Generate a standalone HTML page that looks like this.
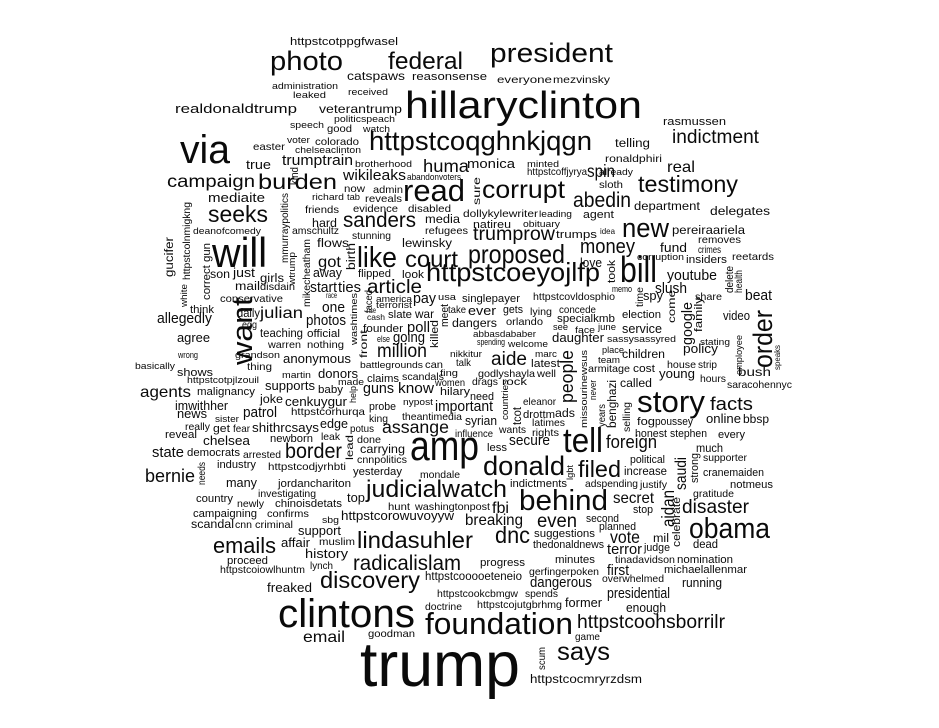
<!DOCTYPE html>
<html><head><meta charset="utf-8"><style>
html,body{margin:0;padding:0;background:#fff;}
svg{display:block;font-family:"Liberation Sans",Arial,sans-serif;}
text{fill:#0a0a0a;}
</style></head><body>
<svg id="cloud" width="939" height="728" viewBox="0 0 939 728" xmlns="http://www.w3.org/2000/svg"></svg>
<script>
// [word, x, baseline y, font size, length, vertical]
const words = [
["trump",360,686,66,160,0],["hillaryclinton",405,118,40,237,0],["clintons",278,627,42,137,0],
["amp",410,460,44,69,0],["via",180,163,42,50,0],["will",212,267,44,55,0],["story",637,412,32,68,0],
["tell",563,452,36,40,0],["president",490,62,28,123,0],["httpstcoqghnkjqgn",369,150,28,223,0],
["foundation",425,634,32,148,0],["behind",519,510,30,89,0],["read",403,201,32,62,0],["photo",270,70,28,73,0],
["federal",388,69,25,75,0],["bill",620,282,38,37,0],["httpstcoeyojlfp",426,281,27,174,0],
["proposed",468,263,27,97,0],["donald",483,475,28,82,0],["like",357,267,30,40,0],["court",405,267,24,53,0],
["obama",689,538,30,81,0],["corrupt",482,198,26,83,0],["testimony",638,192,24,100,0],["new",622,237,28,47,0],
["judicialwatch",366,497,25,141,0],["lindasuhler",357,548,24,116,0],["discovery",320,588,24,100,0],
["radicalislam",353,570,22,108,0],["burden",258,189,22,79,0],["seeks",208,222,24,60,0],["sanders",343,227,22,73,0],
["abedin",573,207,22,58,0],["emails",213,553,23,63,0],["says",557,660,26,53,0],["dnc",495,543,24,35,0],
["filed",578,477,24,43,0],["border",285,458,22,57,0],["indictment",672,143,20,87,0],["money",580,253,21,55,0],
["httpstcoohsborrilr",577,628,20,148,0],["trumprow",473,240,20,82,0],["disaster",682,513,20,67,0],
["article",367,293,20,55,0],["million",377,357,20,50,0],["even",537,527,20,40,0],["aide",491,365,20,36,0],
["foreign",606,448,19,51,0],["facts",710,410,19,43,0],["bernie",145,482,19,50,0],["campaign",167,187,18,88,0],
["huma",423,172,18,46,0],["spin",587,177,18,28,0],["assange",382,433,18,67,0],["vote",610,543,18,30,0],
["real",667,172,17,28,0],["agents",140,397,17,51,0],["julian",260,318,17,43,0],["got",318,267,17,23,0],
["breaking",465,525,17,58,0],["secret",613,503,17,41,0],["email",303,642,17,42,0],["fbi",492,513,17,17,0],
["trumptrain",282,165,16,71,0],["patrol",243,417,16,34,0],["know",398,393,16,36,0],["terror",607,554,16,35,0],
["wikileaks",343,180,15,63,0],["allegedly",157,323,15,55,0],["start",310,292,15,27,0],["ties",338,292,15,23,0],
["pay",413,303,15,23,0],["one",322,312,15,23,0],["photos",306,325,15,40,0],["poll",407,332,15,23,0],
["going",393,342,15,32,0],["guns",363,393,15,31,0],["youtube",667,280,15,50,0],["slush",655,293,15,32,0],
["beat",745,300,15,27,0],["state",152,457,15,32,0],["important",435,411,15,58,0],["secure",509,445,15,41,0],
["first",607,575,15,22,0],["dangerous",530,587,15,62,0],["presidential",607,598,15,63,0],
["httpstcorowuvoyyw",341,520,14,113,0],["realdonaldtrump",175,113,14,122,0],["true",246,169,14,25,0],
["mediaite",208,202,14,57,0],["away",313,277,14,29,0],["just",233,277,14,22,0],["agree",177,342,14,33,0],
["anonymous",283,363,14,68,0],["donors",318,378,14,40,0],["supports",265,390,14,50,0],["imwithher",175,410,14,53,0],
["cenkuygur",285,406,14,62,0],["news",177,418,14,30,0],["shithrcsays",252,432,14,67,0],["edge",320,428,14,28,0],
["chelsea",203,445,14,47,0],["many",226,487,14,31,0],["top",347,502,14,18,0],["support",298,535,14,43,0],
["affair",281,547,14,29,0],["history",305,558,14,43,0],["freaked",267,592,14,45,0],["monica",467,168,14,48,0],
["ever",468,315,14,28,0],["fund",660,252,14,27,0],["love",580,267,14,22,0],["spy",643,300,14,20,0],
["video",723,320,14,27,0],["service",622,333,14,40,0],["daughter",552,342,14,52,0],["policy",683,353,14,35,0],
["young",659,378,14,36,0],["syrian",465,425,14,32,0],["online",706,423,14,35,0],["running",682,587,14,40,0],
["former",565,607,14,37,0],["enough",626,612,14,40,0],["httpstcooooeteneio",425,580,13,97,0],
["catspaws",347,80,13,58,0],["veterantrump",319,113,13,83,0],["hard",312,227,13,25,0],["media",425,223,13,35,0],
["flows",317,247,13,32,0],["lewinsky",402,247,13,50,0],["son",210,278,13,20,0],["girls",260,282,13,24,0],
["mail",235,290,13,25,0],["daily",237,317,13,23,0],["war",415,318,13,19,0],["teaching",260,337,13,43,0],
["joke",260,403,13,23,0],["carrying",360,453,13,45,0],["scandal",191,528,13,43,0],["telling",615,147,13,35,0],
["department",634,210,13,66,0],["delegates",710,215,13,60,0],["pereiraariela",672,234,13,73,0],
["dangers",452,327,13,45,0],["children",622,358,13,43,0],["called",620,387,13,32,0],["bush",738,376,13,33,0],
["ads",555,417,13,20,0],["bbsp",743,423,13,26,0],["much",696,452,13,27,0],["increase",624,475,13,43,0],
["mil",653,542,13,16,0],["dead",693,548,13,25,0],["httpstcocmryrzdsm",530,683,13,112,0],
["httpstcotppgfwasel",290,45,12,108,0],["rasmussen",663,125,12,63,0],["flipped",358,277,12,33,0],
["look",402,278,12,22,0],["think",190,313,12,24,0],["slate",388,318,12,24,0],["founder",363,332,12,40,0],
["official",307,337,12,33,0],["agent",583,218,12,31,0],["natireu",473,228,12,38,0],["trumps",556,238,12,41,0],
["insiders",686,263,12,41,0],["gets",503,313,12,20,0],["singlepayer",462,302,12,58,0],["specialkmb",557,322,12,58,0],
["election",622,318,12,39,0],["shows",177,376,12,36,0],["claims",367,382,12,32,0],["malignancy",197,395,12,58,0],
["baby",318,393,12,25,0],["probe",369,410,12,27,0],["get",213,432,12,17,0],["reveal",165,438,12,32,0],
["newborn",270,442,12,43,0],["democrats",187,456,12,53,0],["industry",217,468,12,39,0],["yesterday",353,475,12,49,0],
["jordanchariton",278,487,12,73,0],["country",196,502,12,37,0],["chinoisdetats",275,507,12,67,0],
["campaigning",193,517,12,64,0],["proceed",227,564,12,41,0],["latest",531,367,12,29,0],["cost",633,372,12,22,0],
["need",470,400,12,24,0],["drottm",523,418,12,32,0],["fog",637,425,12,18,0],["poussey",655,425,12,38,0],
["honest",635,437,12,32,0],["stephen",670,437,12,37,0],["every",718,438,12,27,0],["less",487,451,12,20,0],
["political",630,463,12,35,0],["cranemaiden",703,476,12,61,0],["notmeus",730,488,12,43,0],
["indictments",510,487,12,57,0],["stop",633,513,12,20,0],["second",586,522,12,33,0],["planned",599,530,12,37,0],
["suggestions",534,537,12,61,0],["thedonaldnews",533,548,12,71,0],["judge",644,551,12,26,0],
["progress",480,566,12,45,0],["minutes",555,563,12,40,0],["nomination",677,563,12,56,0],
["michaelallenmar",664,573,12,83,0],["reasonsense",412,80,12,75,0],["everyone",497,83,11,55,0],["mezvinsky",553,83,11,57,0],
["good",327,132,11,25,0],["easter",253,150,11,32,0],["colorado",315,145,11,44,0],["now",344,192,11,21,0],
["admin",373,193,11,30,0],["reveals",365,202,11,37,0],["friends",305,213,11,34,0],["evidence",353,212,11,45,0],
["disabled",408,212,11,43,0],["refugees",425,234,11,43,0],["amschultz",292,234,11,47,0],["stunning",352,239,11,39,0],
["disdain",260,290,11,35,0],["conservative",220,302,11,63,0],["egg",242,328,11,15,0],["warren",268,348,11,33,0],
["nothing",307,348,11,37,0],["ronaldphiri",605,162,11,57,0],["httpstcoffjyrya",527,175,11,60,0],["sloth",599,188,11,24,0],
["dollykylewriter",463,217,11,75,0],["removes",698,243,11,43,0],["crimes",698,253,11,23,0],["reetards",732,260,11,42,0],
["httpstcovldosphio",533,300,11,82,0],["share",695,300,11,27,0],["lying",530,315,11,22,0],["concede",559,313,11,37,0],
["orlando",506,325,11,37,0],["thing",247,370,11,25,0],["can",425,368,11,18,0],["scandals",402,380,11,42,0],
["httpstcorhurqa",291,415,11,74,0],["king",369,422,11,19,0],["theantimedia",402,420,11,60,0],["really",185,430,11,25,0],
["fear",233,432,11,17,0],["potus",350,432,11,24,0],["leak",321,440,11,19,0],["done",357,443,11,24,0],
["arrested",243,458,11,38,0],["cnnpolitics",357,463,11,50,0],["httpstcodjyrhbti",268,470,11,78,0],["mondale",420,478,11,40,0],
["investigating",258,497,11,58,0],["newly",237,507,11,27,0],["hunt",388,510,11,22,0],["washingtonpost",415,510,11,75,0],
["confirms",267,517,11,42,0],["cnn",235,528,11,17,0],["criminal",255,528,11,38,0],["muslim",319,545,11,36,0],
["httpstcoiowlhuntm",220,573,11,85,0],["lynch",310,569,11,23,0],["httpstcookcbmgw",437,597,11,81,0],
["doctrine",425,610,11,37,0],["goodman",368,637,11,47,0],["armitage",588,372,11,42,0],["house",667,368,11,29,0],
["strip",698,368,11,19,0],["godlyshayla",478,377,11,57,0],["well",537,377,11,19,0],["hours",700,382,11,26,0],
["drags",472,385,11,26,0],["rock",502,385,11,25,0],["saracohennyc",727,388,11,65,0],["eleanor",523,405,11,33,0],
["latimes",532,426,11,33,0],["influence",455,437,11,38,0],["wants",499,433,11,27,0],["rights",532,436,11,27,0],
["supporter",703,461,11,44,0],["adspending",585,487,11,53,0],["justify",640,488,11,27,0],["gratitude",693,497,11,41,0],
["tinadavidson",615,563,11,60,0],["gerfingerpoken",529,575,11,70,0],["overwhelmed",602,582,11,62,0],
["spends",525,597,11,33,0],["httpstcojutgbrhmg",477,608,11,85,0],["game",575,640,11,25,0],["talk",456,366,11,15,0],
["women",435,386,11,30,0],["hilary",440,395,12,30,0],["take",448,313,11,18,0],["administration",272,89,10,66,0],
["received",348,95,10,40,0],["leaked",293,98,10,33,0],["politicspeach",334,122,10,61,0],["speech",290,128,10,34,0],
["watch",363,132,10,27,0],["voter",287,143,10,23,0],["chelseaclinton",295,153,10,66,0],["brotherhood",355,167,10,57,0],
["abandon",407,180,10,32,0],["voters",439,180,10,22,0],["richard",312,200,10,32,0],["tab",347,200,10,13,0],
["deanofcomedy",193,234,10,68,0],["race",326,298,9,11,0],["america",376,302,10,36,0],["usa",438,300,10,18,0],
["terrorist",376,308,10,36,0],["rise",367,313,9,9,0],["cash",367,320,9,18,0],["else",377,342,10,13,0],
["wrong",178,358,10,20,0],["grandson",235,358,10,45,0],["battlegrounds",360,368,10,63,0],["basically",135,369,10,40,0],
["httpstcotpjlzouil",187,383,10,72,0],["martin",282,378,10,29,0],["made",338,385,10,26,0],["nypost",403,405,10,30,0],
["sister",215,422,10,24,0],["sbg",322,523,10,17,0],["minted",527,167,10,32,0],["already",599,175,10,34,0],
["leading",539,217,10,33,0],["obituary",523,227,10,37,0],["idea",600,234,9,15,0],["corruption",637,260,10,47,0],
["memo",612,292,10,20,0],["see",553,330,10,15,0],["face",575,333,10,20,0],["june",598,330,10,18,0],
["abbasdababer",473,337,10,63,0],["spending",477,345,10,28,0],["welcome",508,347,10,40,0],["sassysassyred",607,342,10,69,0],
["stating",700,345,10,30,0],["nikkitur",450,357,10,32,0],["marc",535,357,10,22,0],["team",598,363,10,22,0],
["place",602,353,10,22,0],["fing",440,376,10,18,0],
// vertical words: x = baseline x, y = bottom
["want",252,365,30,68,1],["order",772,368,28,58,1],["people",573,403,19,53,1],["saudi",686,490,17,33,1],
["aidan",674,527,18,37,1],["google",692,345,15,43,1],["benghazi",616,428,13,48,1],["kind",298,185,12,18,1],
["mmurraypolitics",288,263,11,70,1],["httpstcolnmigkng",190,280,11,78,1],["gucifer",173,277,13,40,1],
["correct gun",210,300,12,57,1],["wtrump",295,285,10,33,1],["mikecheatham",310,307,11,68,1],["birth",355,270,13,27,1],
["white",187,307,10,23,1],["washtimes",357,345,10,52,1],["faced",372,313,11,23,1],["meet",448,327,12,23,1],
["killed",438,348,12,28,1],["front",367,358,11,28,1],["sure",480,205,11,28,1],["took",615,283,12,23,1],
["time",643,307,11,20,1],["come",675,323,11,33,1],["family",702,332,12,35,1],["delete",733,293,12,27,1],
["health",742,293,11,23,1],["employee",742,375,10,40,1],["speaks",780,370,9,25,1],["help",356,403,10,17,1],
["needs",205,485,11,23,1],["lead",353,460,11,25,1],["missourinewsus",587,428,10,78,1],["never",596,400,10,20,1],
["years",605,427,11,23,1],["selling",630,432,11,30,1],["countries",508,420,10,40,1],["tcot",521,425,13,18,1],
["strong",698,483,12,30,1],["lgbt",573,480,10,15,1],["celebrate",680,547,12,50,1],["scum",545,670,11,23,1]
];
const SCALE = 0.95;
const svg = document.getElementById('cloud');
const NS = 'http://www.w3.org/2000/svg';
for (const w of words) {
  const t = document.createElementNS(NS, 'text');
  
  
  t.setAttribute('font-size', (w[3] * SCALE).toFixed(1));
  t.setAttribute('textLength', w[4]);
  t.setAttribute('lengthAdjust', 'spacingAndGlyphs');
  if (w[5]) {
    t.setAttribute('x', 0); t.setAttribute('y', 0);
    t.setAttribute('transform', 'translate(' + w[1] + ',' + w[2] + ') rotate(-90)');
  } else {
    t.setAttribute('x', w[1]); t.setAttribute('y', w[2]);
  }
  t.textContent = w[0];
  svg.appendChild(t);
}
</script>
</body></html>
